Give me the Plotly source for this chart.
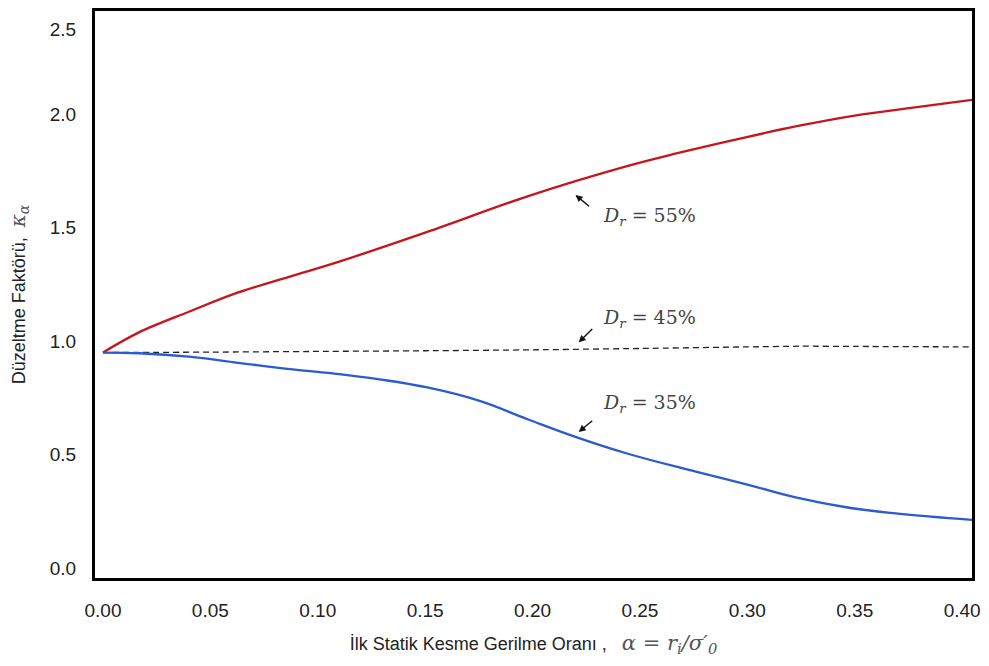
import plotly.graph_objects as go

# x values (alpha)
x_55 = [0.0, 0.017, 0.040, 0.063, 0.087, 0.110, 0.151, 0.198, 0.244, 0.267, 0.295, 0.323, 0.350, 0.378, 0.405]
y_55 = [0.95, 1.04, 1.13, 1.215, 1.285, 1.351, 1.482, 1.640, 1.772, 1.828, 1.890, 1.948, 1.995, 2.031, 2.065]

x_45 = [0.0, 0.05, 0.10, 0.15, 0.20, 0.25, 0.30, 0.325, 0.35, 0.405]
y_45 = [0.95, 0.952, 0.955, 0.958, 0.962, 0.968, 0.975, 0.978, 0.977, 0.975]

x_35 = [0.0, 0.017, 0.040, 0.063, 0.087, 0.110, 0.128, 0.151, 0.175, 0.198, 0.221, 0.244, 0.276, 0.300, 0.323, 0.346, 0.369, 0.405]
y_35 = [0.95, 0.947, 0.932, 0.905, 0.877, 0.855, 0.833, 0.796, 0.738, 0.655, 0.575, 0.505, 0.425, 0.368, 0.310, 0.268, 0.241, 0.212]

x_ticks = [0.0, 0.05, 0.10, 0.15, 0.20, 0.25, 0.30, 0.35, 0.40]
x_tick_text = ["0.00", "0.05", "0.10", "0.15", "0.20", "0.25", "0.30", "0.35", "0.40"]
y_ticks = [0.0, 0.5, 1.0, 1.5, 2.0, 2.373]
y_tick_text = ["0.0", "0.5", "1.0", "1.5", "2.0", "2.5"]

labels = ["55%", "45%", "35%"]
# (text x, text y, arrow tip x, arrow tip y, arrow tail x, arrow tail y)
label_pos = [
    (0.232, 1.55, 0.220, 1.645, 0.227, 1.59),
    (0.232, 1.10, 0.2215, 0.995, 0.2285, 1.06),
    (0.232, 0.725, 0.2215, 0.60, 0.2285, 0.655),
]

fig = go.Figure()
fig.add_trace(go.Scatter(x=x_55, y=y_55, mode="lines", line=dict(color="#c4161c", width=2.3, shape="spline", smoothing=1.0)))
fig.add_trace(go.Scatter(x=x_45, y=y_45, mode="lines", line=dict(color="#222222", width=1.3, dash="6px,4px", shape="spline", smoothing=0.6)))
fig.add_trace(go.Scatter(x=x_35, y=y_35, mode="lines", line=dict(color="#2a5bd0", width=2.3, shape="spline", smoothing=1.2)))

for lab, (tx, ty, ax_, ay_, bx, by) in zip(labels, label_pos):
    fig.add_annotation(x=tx, y=ty, xref="x", yref="y", xanchor="left", yanchor="middle",
                       text="<i>D</i><sub><i>r</i></sub> = " + lab, showarrow=False,
                       font=dict(family="DejaVu Serif", size=19, color="#444444"))
    fig.add_annotation(x=ax_, y=ay_, ax=bx, ay=by, xref="x", yref="y", axref="x", ayref="y",
                       text="", showarrow=True, arrowhead=2, arrowsize=1, arrowwidth=1.4, arrowcolor="#111111")

fig.update_layout(
    width=989, height=666,
    margin=dict(l=95, r=12, t=8, b=88),
    paper_bgcolor="white", plot_bgcolor="white",
    showlegend=False,
    font=dict(family="Liberation Sans, Arial", size=18, color="#222222"),
)
fig.update_xaxes(range=[-0.0037, 0.4046], tickvals=x_ticks, ticktext=x_tick_text,
                 showgrid=False, zeroline=False, showline=True, mirror=True, linewidth=3, linecolor="black",
                 ticks="", ticklabelstandoff=13, tickfont=dict(size=19),
                 title=dict(text="İlk Statik Kesme Gerilme Oranı ,   <span style=\"font-family:'DejaVu Serif';font-style:italic;fill:#555;font-size:21px\">α = r<sub>i</sub>/σ′<sub>0</sub></span>",
                            font=dict(size=18, color="#222222"), standoff=18))
fig.update_yaxes(range=[-0.044, 2.456], tickvals=y_ticks, ticktext=y_tick_text,
                 showgrid=False, zeroline=False, showline=True, mirror=True, linewidth=3, linecolor="black",
                 ticks="", ticklabelstandoff=12, tickfont=dict(size=19),
                 title=dict(text="Düzeltme Faktörü,  <span style=\"font-family:'DejaVu Serif';font-style:italic;fill:#555;font-size:20px\">κ<sub>α</sub></span>",
                            font=dict(size=18, color="#222222"), standoff=20))

fig.write_html("out.html")
